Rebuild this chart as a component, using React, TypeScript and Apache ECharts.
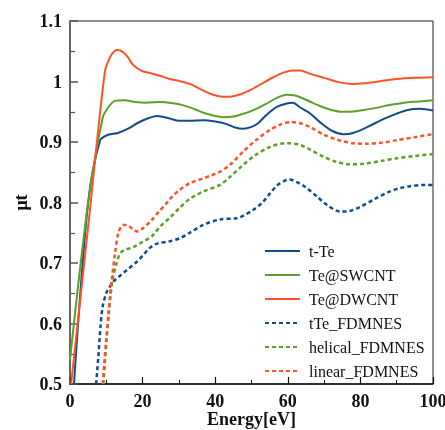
import React, { useEffect, useRef } from "react";
import * as echarts from "echarts";

const seriesNames = ["t-Te", "Te@SWCNT", "Te@DWCNT", "tTe_FDMNES", "helical_FDMNES", "linear_FDMNES"];

const tTe: number[][] = [
  [1.1, 0.5], [5, 0.8], [8.3, 0.903], [10.5, 0.912], [13.2, 0.915], [16, 0.922], [18.5, 0.931],
  [21, 0.938], [24, 0.943], [27.5, 0.939], [30, 0.935], [33, 0.935], [36.7, 0.936], [40, 0.934],
  [43, 0.93], [45.5, 0.924], [47.7, 0.922], [50, 0.925], [51.8, 0.931], [54, 0.944], [57, 0.958],
  [60, 0.964], [61.4, 0.965], [63.4, 0.957], [66, 0.948], [69, 0.932], [72, 0.919], [75.3, 0.913],
  [78, 0.915], [82, 0.925], [86, 0.937], [90, 0.947], [93, 0.953], [96.4, 0.955], [100, 0.952],
];

const swcnt: number[][] = [
  [0, 0.54], [5, 0.8], [9, 0.94], [10.5, 0.957], [12.4, 0.968], [15, 0.969], [18, 0.966],
  [21, 0.965], [25, 0.966], [28.4, 0.964], [31, 0.961], [34, 0.955], [37, 0.948], [40, 0.943],
  [42, 0.941], [45, 0.942], [48, 0.947], [51, 0.954], [54, 0.963], [57, 0.973], [59.7, 0.978],
  [62, 0.977], [63.4, 0.974], [66, 0.967], [69, 0.959], [72, 0.953], [75, 0.95], [77, 0.95],
  [80, 0.952], [84, 0.956], [88, 0.961], [92, 0.965], [96, 0.967], [100, 0.969],
];

const dwcnt: number[][] = [
  [0.3, 0.5], [5, 0.76], [9.6, 1.016], [11, 1.04], [12.2, 1.05], [13.2, 1.052], [14.5, 1.049],
  [16, 1.04], [17, 1.03], [18.5, 1.022], [20, 1.017], [22, 1.014], [25, 1.009], [27.5, 1.004],
  [30, 1.001], [33, 0.996], [36, 0.987], [39, 0.979], [42, 0.975], [44, 0.975], [47, 0.979],
  [50, 0.987], [53, 0.997], [56, 1.007], [59, 1.015], [61.4, 1.018], [63.4, 1.018], [66, 1.013],
  [70, 1.006], [74, 0.999], [78, 0.996], [81, 0.997], [85, 1.0], [90, 1.004], [95, 1.006], [100, 1.007],
];

const tTeFd: number[][] = [
  [7.2, 0.5], [7.8, 0.545], [8.4, 0.595], [9, 0.628], [10.1, 0.652], [11, 0.661], [11.9, 0.669],
  [13.8, 0.679], [15.6, 0.688], [18.4, 0.702], [20, 0.712], [22, 0.725], [24, 0.732], [27.5, 0.736],
  [30.3, 0.741], [33, 0.75], [36.7, 0.763], [41.3, 0.772], [45.9, 0.774], [48, 0.779], [50.5, 0.788],
  [53, 0.8], [55.1, 0.815], [57, 0.828], [59.2, 0.836], [60.5, 0.838], [62.4, 0.834], [65, 0.825],
  [68, 0.81], [71, 0.795], [74.4, 0.785], [77, 0.786], [80, 0.793], [84, 0.806], [88, 0.818],
  [91, 0.824], [93.7, 0.827], [97, 0.829], [100, 0.829],
];

const helicalFd: number[][] = [
  [9.2, 0.5], [10, 0.568], [10.7, 0.617], [11.2, 0.647], [11.7, 0.672], [12.7, 0.697], [13.8, 0.716],
  [15.2, 0.722], [17.4, 0.726], [20, 0.735], [22.5, 0.744], [24.8, 0.76], [27.5, 0.775], [30, 0.79],
  [33, 0.806], [36.7, 0.818], [41.3, 0.829], [44, 0.842], [47.7, 0.862], [51, 0.878], [55.1, 0.892],
  [58, 0.897], [60.1, 0.898], [63.4, 0.895], [66, 0.888], [70, 0.875], [73.5, 0.867], [77, 0.863],
  [81, 0.864], [86, 0.869], [90, 0.873], [95, 0.877], [100, 0.88],
];

const linearFd: number[][] = [
  [9, 0.5], [9.9, 0.568], [10.6, 0.617], [11, 0.645], [11.5, 0.672], [12.4, 0.716], [13.3, 0.749],
  [14.6, 0.763], [16, 0.762], [17.5, 0.755], [18.7, 0.752], [20, 0.757], [22.5, 0.771], [24.5, 0.785],
  [26.6, 0.799], [28, 0.809], [30, 0.82], [33, 0.832], [36.7, 0.84], [39, 0.845], [41.3, 0.851],
  [44, 0.862], [47.7, 0.884], [51, 0.902], [55.1, 0.92], [58, 0.929], [61, 0.933], [63.4, 0.931],
  [66, 0.925], [70, 0.912], [74, 0.903], [78, 0.898], [81.7, 0.897], [86, 0.899], [90, 0.903],
  [95, 0.908], [100, 0.913],
];

const seriesData = [tTe, swcnt, dwcnt, tTeFd, helicalFd, linearFd];
const colors = ["#114d8c", "#5c9f2c", "#ff5225", "#114d8c", "#5c9f2c", "#ff5225"];

export default function App() {
  const ref = useRef<HTMLDivElement>(null);
  useEffect(() => {
    if (!ref.current) return;
    const chart = echarts.init(ref.current, null, { renderer: "svg" });
    const font = "'Liberation Serif', 'Times New Roman', serif";
    chart.setOption({
      animation: false,
      grid: {
        left: 70, right: 12, top: 21, bottom: 46,
        containLabel: false,
        outerBoundsMode: "none",
        show: true, borderColor: "#222", borderWidth: 1, backgroundColor: "transparent",
      },
      legend: {
        orient: "vertical",
        left: 259,
        top: 238,
        itemWidth: 35,
        itemHeight: 14,
        itemGap: 8,
        data: seriesNames,
        itemStyle: { opacity: 0, color: "transparent", borderWidth: 0 },
        textStyle: { fontFamily: font, fontSize: 16, color: "#111", padding: [0, 0, 0, 4] },
      },
      xAxis: {
        type: "value",
        min: 0, max: 100, interval: 20,
        name: "Energy[eV]",
        nameLocation: "middle",
        nameGap: 26,
        nameMoveOverlap: false,
        nameTextStyle: { fontFamily: font, fontSize: 18, fontWeight: "bold", color: "#111", lineHeight: 18 },
        axisLine: { show: true, onZero: false, lineStyle: { color: "#111", width: 1.5 } },
        axisTick: { show: true, inside: true, length: 7, lineStyle: { color: "#111", width: 1.2 } },
        minorTick: { show: true, splitNumber: 2, length: 4, lineStyle: { color: "#111", width: 1 } },
        splitLine: { show: false },
        axisLabel: { fontFamily: font, fontSize: 18, fontWeight: "bold", color: "#111", margin: 8 },
      },
      yAxis: {
        type: "value",
        min: 0.5, max: 1.1, interval: 0.1,
        name: "μt",
        nameLocation: "middle",
        nameGap: 40,
        nameMoveOverlap: false,
        nameTextStyle: { fontFamily: font, fontSize: 18, fontWeight: "bold", color: "#111" },
        axisLine: { show: true, onZero: false, lineStyle: { color: "#666", width: 2 } },
        axisTick: { show: true, inside: true, length: 8, lineStyle: { color: "#555", width: 1.5 } },
        minorTick: { show: true, splitNumber: 2, length: 5, lineStyle: { color: "#555", width: 1.2 } },
        splitLine: { show: false },
        axisLabel: {
          fontFamily: font, fontSize: 18, fontWeight: "bold", color: "#111", margin: 8,
          formatter: (v: number) => String(Math.round(v * 10) / 10),
        },
      },
      series: seriesNames.map((name, i) => ({
        name,
        type: "line",
        data: seriesData[i],
        smooth: 0.3,
        symbol: "none",
        clip: true,
        color: colors[i],
        lineStyle: {
          color: colors[i],
          width: i < 3 ? 2 : 2.5,
          type: i < 3 ? "solid" : [4, 3],
        },
        z: i < 3 ? 3 : 2,
      })),
    });
    return () => chart.dispose();
  }, []);
  return <div ref={ref} style={{ position: "fixed", left: 0, top: 0, width: 445, height: 430 }} />;
}
